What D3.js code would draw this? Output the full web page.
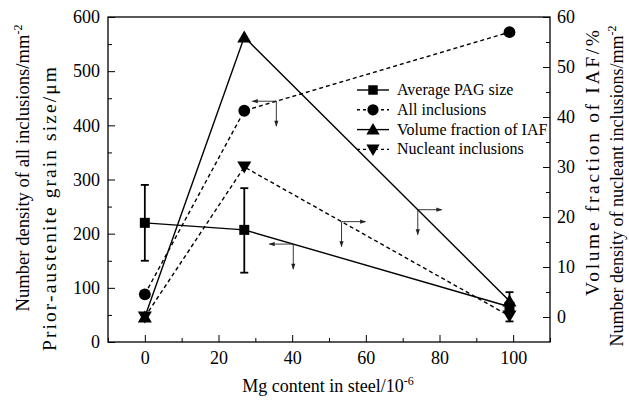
<!DOCTYPE html>
<html>
<head>
<meta charset="utf-8">
<script src="https://cdn.jsdelivr.net/npm/d3@7"></script>
<style>
  body { margin: 0; background: #fff; }
  svg, svg text { font-family: "Liberation Serif", "Times New Roman", Times, serif !important; }
  svg { display: block; }
</style>
</head>
<body>
<svg id="chart" width="629" height="402"></svg>
<script>
// ---- data ----
const mgContent = [0, 27, 99];
const pagSize = [220, 207, 65];
const pagErrLow = [150, 128, 38];
const pagErrHigh = [290, 284, 92];
const allInclusions = [88, 427, 572];
const iafFraction = [0, 56, 3.2];
const nucleantInclusions = [0, 30, 0.2];
const xTicks = [0, 20, 40, 60, 80, 100];
const leftTicks = [0, 100, 200, 300, 400, 500, 600];
const rightTicks = [0, 10, 20, 30, 40, 50, 60];
const legendLabels = ["Average PAG size", "All inclusions", "Volume fraction of IAF", "Nucleant inclusions"];

// ---- layout ----
const svg = d3.select("#chart");
const L = 108, R = 550, T = 17, B = 342;
const x = d3.scaleLinear().domain([-10, 110]).range([L, R]);
const yL = d3.scaleLinear().domain([0, 600]).range([B, T]);
const yR = d3.scaleLinear().domain([-5, 60]).range([B, T]);

const defs = svg.append("defs");
defs.append("marker").attr("id", "arr").attr("viewBox", "0 0 10 10")
  .attr("refX", 9).attr("refY", 5).attr("markerWidth", 9).attr("markerHeight", 6)
  .attr("markerUnits", "userSpaceOnUse").attr("orient", "auto")
  .append("path").attr("d", "M0,1.5 L10,5 L0,8.5 Z").attr("fill", "#222");

// frame
svg.append("rect").attr("x", L).attr("y", T).attr("width", R - L).attr("height", B - T)
  .attr("fill", "none").attr("stroke", "#000").attr("stroke-width", 1.3);

// axes (ticks pointing inside)
const fs = "18px";
const gx = svg.append("g").attr("transform", `translate(0,${B})`)
  .call(d3.axisBottom(x).tickValues(d3.range(-10, 111, 10)).tickSize(-5).tickFormat(""));
gx.selectAll(".tick line").attr("y2", d => xTicks.includes(d) ? -7 : -4);
gx.select(".domain").remove();
svg.append("g").attr("transform", `translate(0,${B})`)
  .call(d3.axisBottom(x).tickValues(xTicks).tickSize(0).tickPadding(9).tickFormat(d3.format("d")))
  .call(g => g.select(".domain").remove())
  .selectAll("text").attr("font-size", fs).attr("fill", "#000");

const gyl = svg.append("g").attr("transform", `translate(${L},0)`)
  .call(d3.axisLeft(yL).tickValues(d3.range(0, 601, 50)).tickSize(0).tickFormat(""));
gyl.select(".domain").remove();
gyl.selectAll(".tick line").attr("x2", d => leftTicks.includes(d) ? 7 : 4).attr("stroke", "#000");
svg.append("g").attr("transform", `translate(${L},0)`)
  .call(d3.axisLeft(yL).tickValues(leftTicks).tickSize(0).tickPadding(8))
  .call(g => g.select(".domain").remove())
  .selectAll("text").attr("font-size", fs).attr("fill", "#000");

const gyr = svg.append("g").attr("transform", `translate(${R},0)`)
  .call(d3.axisRight(yR).tickValues(d3.range(0, 61, 5)).tickSize(0).tickFormat(""));
gyr.select(".domain").remove();
gyr.selectAll(".tick line").attr("x2", d => rightTicks.includes(d) ? -7 : -4).attr("stroke", "#000");
svg.append("g").attr("transform", `translate(${R},0)`)
  .call(d3.axisRight(yR).tickValues(rightTicks).tickSize(0).tickPadding(7))
  .call(g => g.select(".domain").remove())
  .selectAll("text").attr("font-size", fs).attr("fill", "#000");

// axis titles
function supTitle(sel, main, sup) {
  sel.append("tspan").text(main);
  sel.append("tspan").attr("dy", -7).attr("font-size", "12px").text(sup);
}
const tx = svg.append("text").attr("x", 328).attr("y", 392).attr("text-anchor", "middle").attr("font-size", fs);
supTitle(tx, "Mg content in steel/10", "-6");
const t1 = svg.append("text").attr("transform", `translate(29,168) rotate(-90)`).attr("text-anchor", "middle").attr("font-size", "18.6px");
supTitle(t1, "Number density of all inclusions/mm", "-2");
svg.append("text").attr("transform", `translate(56,209) rotate(-90)`).attr("text-anchor", "middle").attr("font-size", "19.5px")
  .attr("textLength", 284).attr("lengthAdjust", "spacing")
  .text("Prior-austenite grain size/μm");
svg.append("text").attr("transform", `translate(599,163) rotate(-90)`).attr("text-anchor", "middle").attr("font-size", "19.5px")
  .attr("textLength", 266).attr("lengthAdjust", "spacing")
  .text("Volume fraction of IAF/%");
const t4 = svg.append("text").attr("transform", `translate(623,186) rotate(-90)`).attr("text-anchor", "middle").attr("font-size", fs);
supTitle(t4, "Number density of nucleant inclusions/mm", "-2");

// series
const dash = "4,3";
const series = [
  { vals: pagSize, y: yL, dash: null, sym: d3.symbolSquare, size: 100, rot: 0 },
  { vals: allInclusions, y: yL, dash: dash, sym: d3.symbolCircle, size: 110, rot: 0 },
  { vals: iafFraction, y: yR, dash: null, sym: d3.symbolTriangle, size: 85, rot: 0 },
  { vals: nucleantInclusions, y: yR, dash: dash, sym: d3.symbolTriangle, size: 85, rot: 180 }
];
series.forEach(s => {
  const line = d3.line().x((d, i) => x(mgContent[i])).y(d => s.y(d));
  svg.append("path").attr("d", line(s.vals)).attr("fill", "none").attr("stroke", "#000")
    .attr("stroke-width", 1.4).attr("stroke-dasharray", s.dash);
});

// error bars for PAG
mgContent.forEach((m, i) => {
  const g = svg.append("g").attr("stroke", "#000").attr("stroke-width", 1.8);
  g.append("line").attr("x1", x(m)).attr("x2", x(m)).attr("y1", yL(pagErrLow[i])).attr("y2", yL(pagErrHigh[i]));
  [pagErrLow[i], pagErrHigh[i]].forEach(v =>
    g.append("line").attr("x1", x(m) - 4).attr("x2", x(m) + 4).attr("y1", yL(v)).attr("y2", yL(v)));
});

series.forEach(s => {
  s.vals.forEach((v, i) => {
    const yy = s.y(v) + (s.sym === d3.symbolTriangle ? (s.rot ? -1.5 : 1.5) : 0);
    svg.append("path").attr("d", d3.symbol(s.sym, s.size)())
      .attr("transform", `translate(${x(mgContent[i])},${yy}) rotate(${s.rot})`).attr("fill", "#000");
  });
});

// axis-indicator arrows: corner placed on a line at given Mg value
function onLine(vals, yScale, m) {
  const seg = m <= mgContent[1] ? 0 : 1;
  const t = (m - mgContent[seg]) / (mgContent[seg + 1] - mgContent[seg]);
  return [x(m), yScale(vals[seg] + t * (vals[seg + 1] - vals[seg]))];
}
const arrows = [
  { p: onLine(allInclusions, yL, 35.7), dir: -1 },
  { p: onLine(pagSize, yL, 40.3), dir: -1 },
  { p: onLine(nucleantInclusions, yR, 53.4), dir: 1 },
  { p: onLine(iafFraction, yR, 74.1), dir: 1 }
];
arrows.forEach(a => {
  const [cx, cy] = a.p;
  const g = svg.append("g").attr("stroke", "#222").attr("stroke-width", 0.9).attr("fill", "none");
  g.append("line").attr("x1", cx).attr("y1", cy).attr("x2", cx + a.dir * 24).attr("y2", cy).attr("marker-end", "url(#arr)");
  g.append("line").attr("x1", cx).attr("y1", cy).attr("x2", cx).attr("y2", cy + 25).attr("marker-end", "url(#arr)");
});

// legend
const lg = svg.append("g");
const lx = 357, ly0 = 90, lstep = 19.8;
series.forEach((s, i) => {
  const yy = ly0 + i * lstep;
  lg.append("line").attr("x1", lx).attr("x2", lx + 32).attr("y1", yy).attr("y2", yy)
    .attr("stroke", "#000").attr("stroke-width", 1.4).attr("stroke-dasharray", s.dash ? "3,3" : null);
  lg.append("path").attr("d", d3.symbol(s.sym, s.size * 0.9)())
    .attr("transform", `translate(${lx + 16},${yy + (s.sym === d3.symbolTriangle ? (s.rot ? -1 : 1) : 0)}) rotate(${s.rot})`).attr("fill", "#000");
  lg.append("text").attr("x", lx + 40).attr("y", yy + 5).attr("font-size", "16px").text(legendLabels[i]);
});
</script>
</body>
</html>
